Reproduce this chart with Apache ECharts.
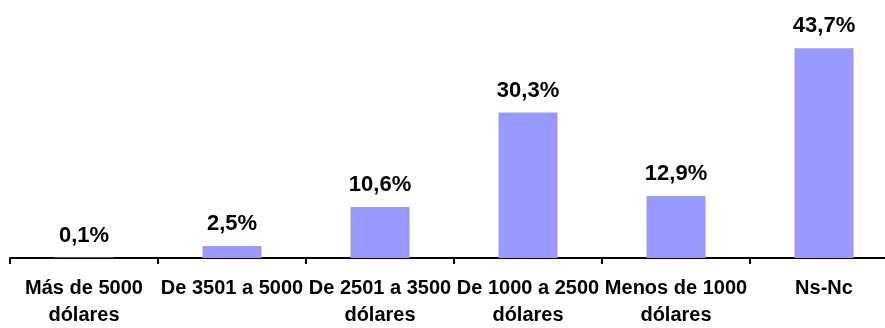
<!DOCTYPE html>
<html>
<head>
<meta charset="utf-8">
<script src="https://cdn.jsdelivr.net/npm/echarts@6/dist/echarts.min.js"></script>
<style>
  html, body { margin: 0; padding: 0; background: #fff; }
  #chart { width: 885px; height: 328px; }
</style>
</head>
<body>
<div id="chart"></div>
<script>
// categorias y porcentajes
const categories = [
  'Más de 5000\ndólares',
  'De 3501 a 5000',
  'De 2501 a 3500\ndólares',
  'De 1000 a 2500\ndólares',
  'Menos de 1000\ndólares',
  'Ns-Nc'
];
const values = [0.1, 2.5, 10.6, 30.3, 12.9, 43.7];

const font = '"Liberation Sans", Arial, sans-serif';

const myChart = echarts.init(document.getElementById('chart'));
myChart.setOption({
  animation: false,
  grid: { left: 10, width: 888, top: 18, bottom: 70, outerBoundsMode: 'none', containLabel: false },
  xAxis: {
    type: 'category',
    data: categories,
    axisLine: { lineStyle: { color: '#000', width: 2 } },
    axisTick: { show: true, alignWithLabel: false, length: 6, lineStyle: { color: '#000', width: 2 } },
    axisLabel: {
      interval: 0,
      margin: 17,
      color: '#000',
      fontFamily: font,
      fontWeight: 'bold',
      fontSize: 20,
      lineHeight: 27
    }
  },
  yAxis: {
    type: 'value',
    min: 0,
    max: 50,
    show: false,
    splitLine: { show: false }
  },
  series: [{
    type: 'bar',
    data: values,
    barWidth: 59,
    itemStyle: { color: '#9999FF' },
    label: {
      show: true,
      position: 'top',
      distance: 11,
      color: '#000',
      fontFamily: font,
      fontWeight: 'bold',
      fontSize: 22,
      formatter: p => p.value.toFixed(1).replace('.', ',') + '%'
    }
  }]
});
</script>
</body>
</html>
